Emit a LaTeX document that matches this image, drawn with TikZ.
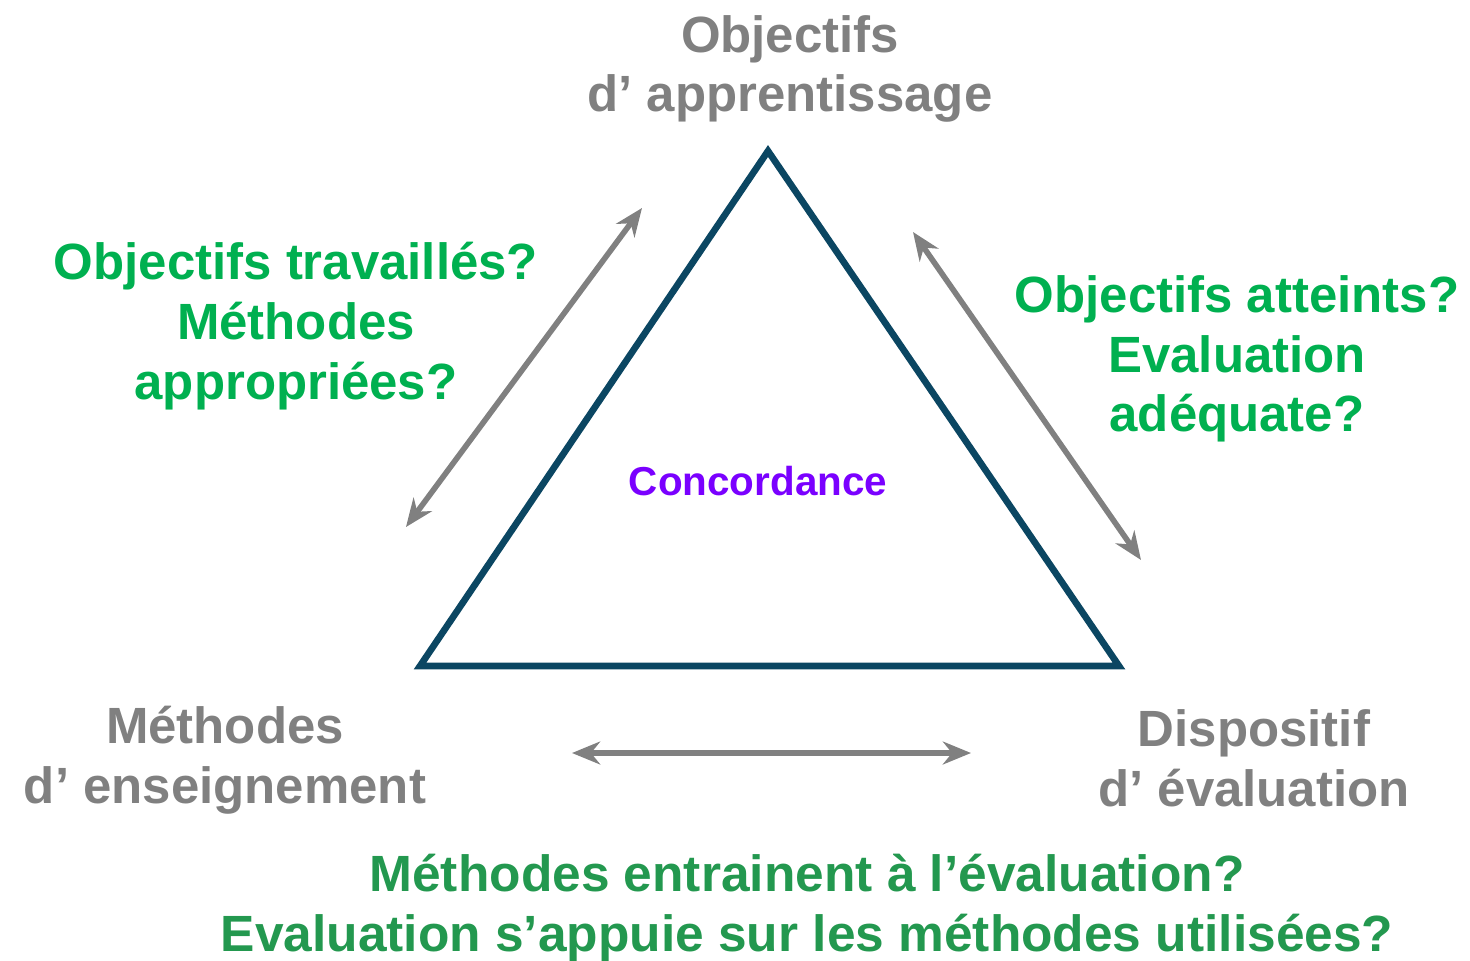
\documentclass[tikz,border=0pt]{standalone}
\usepackage{fontspec}
\setmainfont{Liberation Sans}
\usetikzlibrary{arrows.meta}
\definecolor{tri}{HTML}{0B4662}
\definecolor{grn}{HTML}{00B050}
\definecolor{dgrn}{HTML}{23984F}
\definecolor{gry}{HTML}{808080}
\definecolor{purp}{HTML}{7A00FF}
\tikzset{
  corner/.style={font=\fontsize{29}{34}\selectfont\bfseries, text=gry, align=center, inner sep=0pt},
  question/.style={font=\fontsize{29}{34}\selectfont\bfseries, text=grn, align=center, inner sep=0pt},
  bottomq/.style={font=\fontsize{29}{34}\selectfont\bfseries, text=dgrn, align=center, inner sep=0pt, xscale=1.01},
  twoway/.style={draw=gry, line width=3.2pt, {Stealth[length=16pt,width=13pt]}-{Stealth[length=16pt,width=13pt]}},
  triangle/.style={draw=tri, line width=3.8pt, line join=miter}
}
\begin{document}
\begin{tikzpicture}[x=0.02cm,y=-0.02cm]
\useasboundingbox (0,0) rectangle (1470,960);
% triangle
\coordinate (A) at (768,151);
\coordinate (B) at (420,666);
\coordinate (C) at (1119,666);
\draw[triangle] (A) -- (B) -- (C) -- cycle;
% arrows
\coordinate (l1) at (406,527);
\coordinate (l2) at (642,208);
\coordinate (r1) at (913,232);
\coordinate (r2) at (1141,560);
\coordinate (b1) at (572,753);
\coordinate (b2) at (971,753);
\draw[twoway] (l1) -- (l2);
\draw[twoway] (r1) -- (r2);
\draw[twoway] (b1) -- (b2);
% corner labels
\node[corner] (obj) at (790,69) {Objectifs\\d’ apprentissage};
\node[corner] (meth) at (225,760) {Méthodes\\d’ enseignement};
\node[corner] (disp) at (1254,758) {Dispositif\\d’ évaluation};
% center
\node[font=\fontsize{23}{27}\selectfont\bfseries, text=purp, inner sep=0pt] (conc) at (758,481) {Concordance};
% questions
\node[question] (ql) at (296,326) {Objectifs travaillés?\\Méthodes\\appropriées?};
\node[question] (qr) at (1237,359) {Objectifs atteints?\\Evaluation\\adéquate?};
\node[bottomq] (qb) at (807,908) {Méthodes entrainent à l’évaluation?\\Evaluation s’appuie sur les méthodes utilisées?};
\end{tikzpicture}
\end{document}
